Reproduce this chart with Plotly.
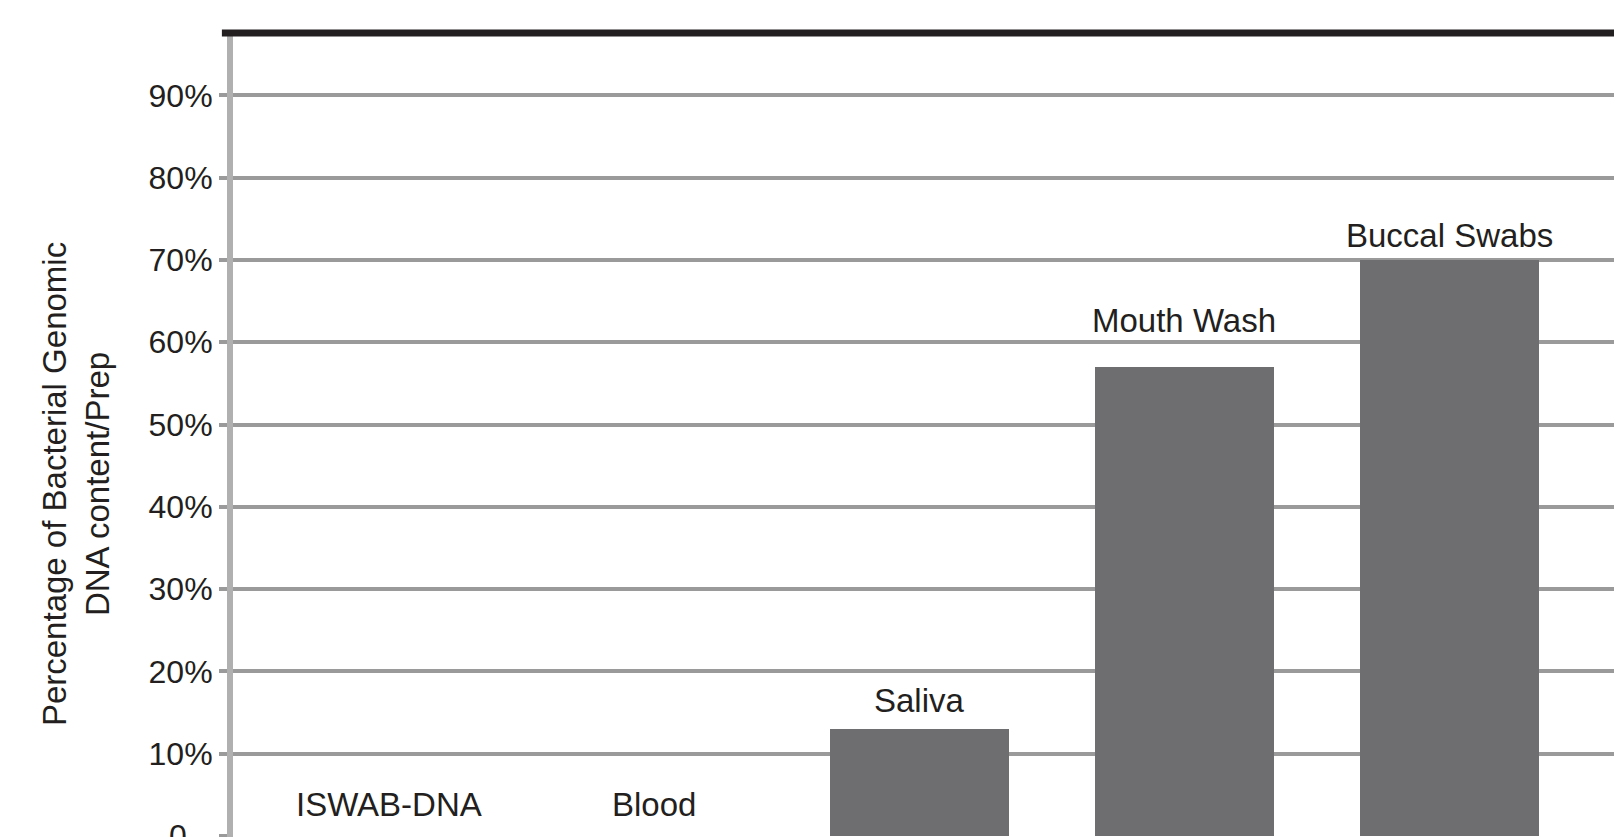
import plotly.graph_objects as go

categories = ["ISWAB-DNA", "Blood", "Saliva", "Mouth Wash", "Buccal Swabs"]
values = [0, 0, 13, 57, 70]
tick_values = [0, 10, 20, 30, 40, 50, 60, 70, 80, 90]
tick_labels = ["", "10%", "20%", "30%", "40%", "50%", "60%", "70%", "80%", "90%"]
y_title = "Percentage of Bacterial Genomic<br>DNA content/Prep"

# styling
label_shift = [32, 32, 29, 46, 24]
FONT = "Liberation Sans, Arial, sans-serif"
TXT = "#231f20"

fig = go.Figure()
fig.add_trace(go.Bar(
    x=categories, y=values, width=0.675,
    marker=dict(color="#6e6e70", line=dict(width=0)),
    hoverinfo="x+y",
))

annotations = []
for c, v, s in zip(categories, values, label_shift):
    annotations.append(dict(
        x=c, y=v, xref="x", yref="y", text=c, showarrow=False,
        yanchor="middle", xanchor="center", yshift=s,
        font=dict(family=FONT, size=33, color=TXT),
    ))
annotations.append(dict(
    x=-0.0396, y=0, xref="paper", yref="y", text="0", showarrow=False,
    xanchor="center", yanchor="middle",
    font=dict(family=FONT, size=32, color=TXT),
))
annotations.append(dict(
    x=-0.113, y=0.439, xref="paper", yref="paper", text=y_title,
    showarrow=False, textangle=-90, xanchor="center", yanchor="middle",
    font=dict(family=FONT, size=33, color=TXT),
))

fig.update_layout(
    width=1614, height=829,
    margin=dict(l=225, r=0, t=25, b=0, pad=0),
    paper_bgcolor="white", plot_bgcolor="white",
    showlegend=False,
    bargap=0,
    annotations=annotations,
    shapes=[dict(type="line", xref="paper", yref="paper",
                 x0=-0.008, x1=1.0, y0=1, y1=1,
                 line=dict(color="#231f20", width=7))],
    xaxis=dict(
        type="category", range=[-0.588, 4.651],
        showticklabels=False, showgrid=False, zeroline=False,
        showline=False, ticks="",
    ),
    yaxis=dict(
        range=[-0.12, 97.58],
        tickmode="array", tickvals=tick_values, ticktext=tick_labels,
        showgrid=True, gridcolor="#9a9a9a", gridwidth=4,
        zeroline=False,
        showline=True, linecolor="#b0b0b0", linewidth=6,
        ticks="outside", ticklen=8, tickwidth=4, tickcolor="#9a9a9a",
        tickfont=dict(family=FONT, size=32, color=TXT),
    ),
)

fig.write_html("out.html")
